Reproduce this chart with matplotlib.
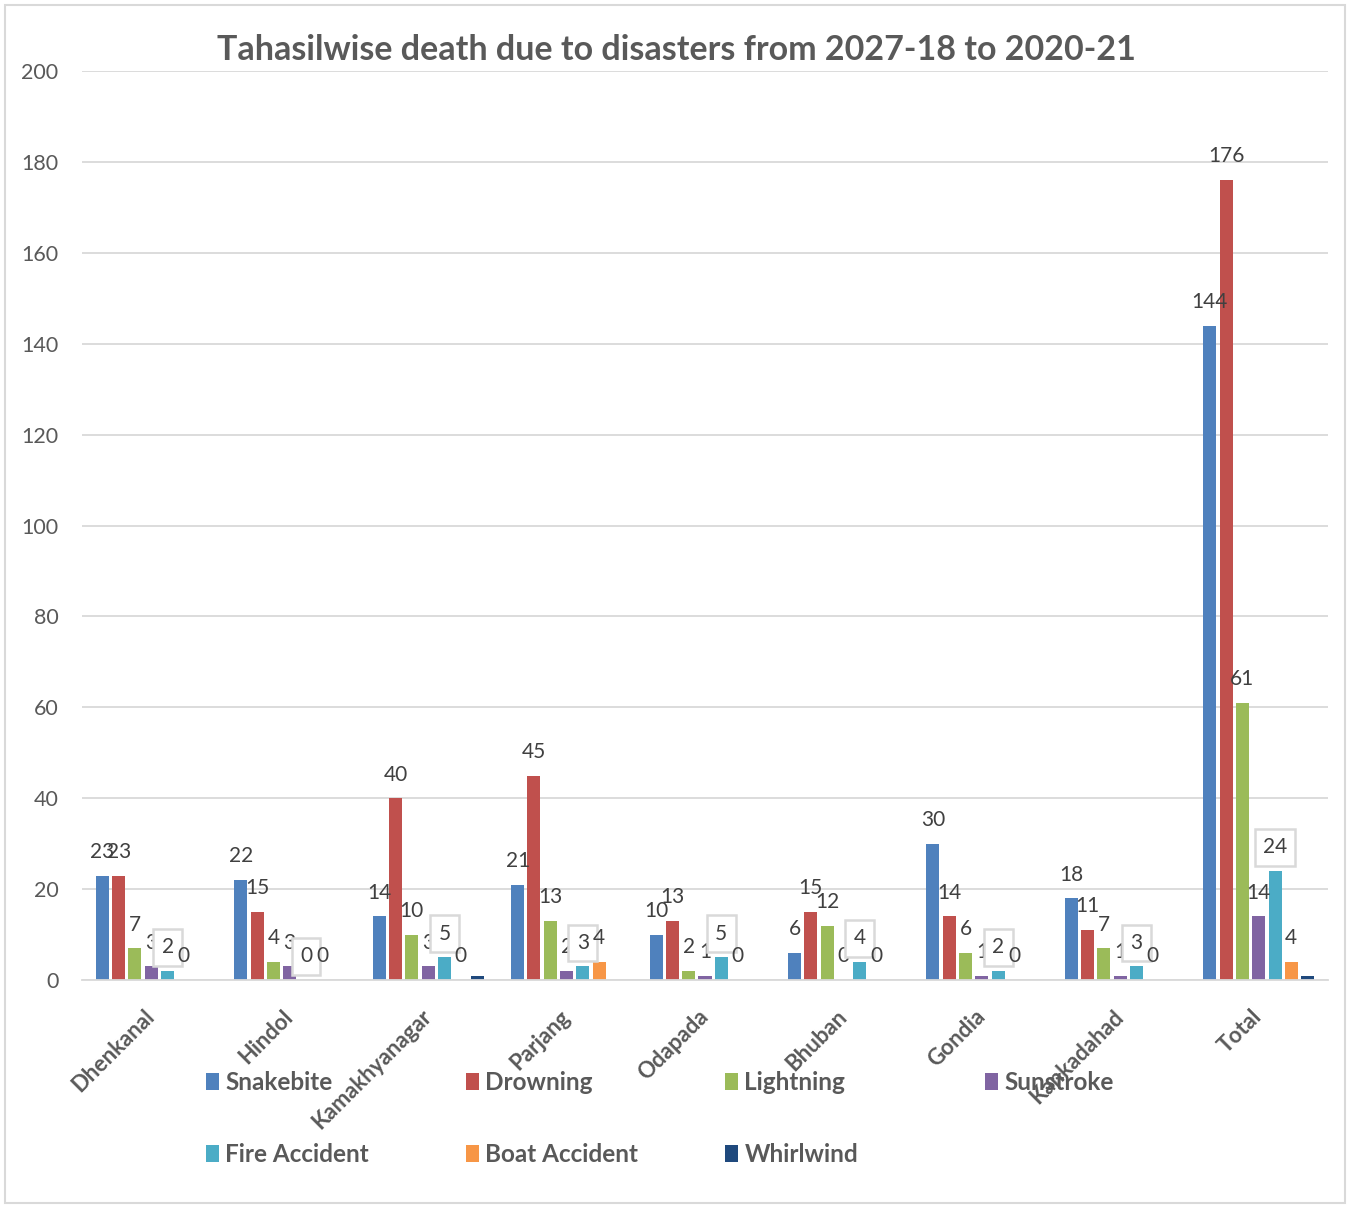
import numpy as np
import matplotlib.pyplot as plt
from matplotlib.patches import Rectangle

plt.rcParams['font.family'] = ['Lato', 'DejaVu Sans']

# deaths per tahasil, 2017-18 to 2020-21
tahasils = ['Dhenkanal', 'Hindol', 'Kamakhyanagar', 'Parjang', 'Odapada',
            'Bhuban', 'Gondia', 'Kankadahad', 'Total']
snakebite = [23, 22, 14, 21, 10, 6, 30, 18, 144]
drowning = [23, 15, 40, 45, 13, 15, 14, 11, 176]
lightning = [7, 4, 10, 13, 2, 12, 6, 7, 61]
sunstroke = [3, 3, 3, 2, 1, 0, 1, 1, 14]
fire_accident = [2, 0, 5, 3, 5, 4, 2, 3, 24]
boat_accident = [0, 0, 0, 4, 0, 0, 0, 0, 4]
whirlwind = [0, 0, 1, 0, 0, 0, 0, 0, 1]

series = [
    ('Snakebite', snakebite, '#4F81BD'),
    ('Drowning', drowning, '#C0504D'),
    ('Lightning', lightning, '#9BBB59'),
    ('Sunstroke', sunstroke, '#8064A2'),
    ('Fire Accident', fire_accident, '#4BACC6'),
    ('Boat Accident', boat_accident, '#F79646'),
    ('Whirlwind', whirlwind, '#1F497D'),
]

txt_col = '#595959'
grid_col = '#d9d9d9'

fig = plt.figure(figsize=(13.52, 12.07), dpi=100)
ax = fig.add_axes([0.0607, 0.188, 0.9215, 0.7532])

x = np.arange(len(tahasils))
slot = 0.1178
width = 0.094
bars = []
for j, (name, vals, col) in enumerate(series):
    pos = x + (j - 3) * slot
    b = ax.bar(pos, vals, width, color=col, label=name, zorder=2)
    bars.append(b)
    if name == 'Whirlwind':
        continue
    for px, v in zip(pos, vals):
        kw = {}
        if name == 'Fire Accident':
            kw['bbox'] = dict(boxstyle='square,pad=0.4', fc='white',
                              ec=grid_col, lw=1.8)
        ax.annotate(str(v), (px, v), xytext=(0, 17), textcoords='offset points',
                    ha='center', va='center', fontsize=15, color='#404040',
                    zorder=5, **kw)

ax.set_xlim(-0.5, len(tahasils) - 0.5)
ax.set_ylim(0, 200)
ax.set_yticks(np.arange(0, 201, 20))
ax.yaxis.grid(True, color=grid_col, lw=1.3, zorder=0)
ax.set_axisbelow(True)
for s in ['top', 'right', 'left']:
    ax.spines[s].set_visible(False)
ax.spines['bottom'].set_color(grid_col)
ax.spines['bottom'].set_linewidth(1.3)
ax.tick_params(axis='y', length=0, pad=17, labelsize=15.5, labelcolor=txt_col)
ax.tick_params(axis='x', length=0, pad=24)
ax.set_xticks(x)
ax.set_xticklabels(tahasils, rotation=45, ha='right', va='center',
                   rotation_mode='anchor', fontsize=16, fontweight='bold',
                   color=txt_col)

fig.text(0.5, 0.9586, 'Tahasilwise death due to disasters from 2027-18 to 2020-21',
         ha='center', va='center', fontsize=24.5, fontweight='bold', color=txt_col)

# legend laid out in four columns under the axis
col_x = [206, 466, 725, 985]
groups = [[0, 4], [1, 5], [2, 6], [3]]
for cx, idx in zip(col_x, groups):
    leg = fig.legend([bars[i] for i in idx], [series[i][0] for i in idx],
                     loc='upper left', bbox_to_anchor=(cx / 1352, 1 - 1071 / 1207),
                     frameon=False, borderpad=0, borderaxespad=0,
                     handlelength=0.55, handleheight=0.7, handletextpad=0.25,
                     labelspacing=2.0, prop=dict(size=17.5, weight='bold'))
    for t in leg.get_texts():
        t.set_color(txt_col)

fig.patches.append(Rectangle((0.004, 0.003), 0.991, 0.993, transform=fig.transFigure,
                             fill=False, ec=grid_col, lw=1.5))

fig.savefig('out.png', dpi=100)
